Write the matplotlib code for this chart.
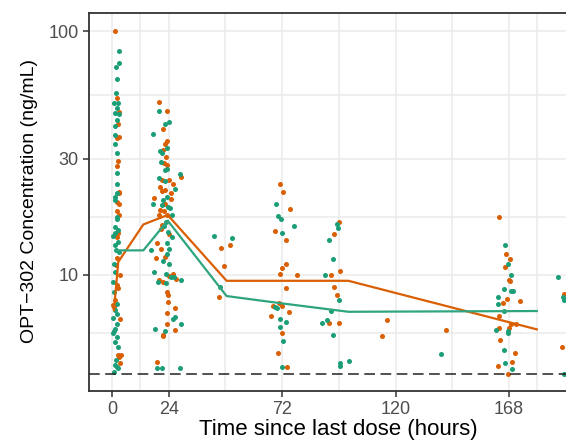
import matplotlib
matplotlib.use("Agg")
import matplotlib.pyplot as plt
import numpy as np

# ---------------- data ----------------
t_orange = [1.3, 2.8, 2.7, 3.0, 2.2, 2.4, 2.0, 2.8, 3.1, 3.0, 2.0, 3.0, 2.3, 2.0, 2.7, 2.2, 1.7, 3.4, 2.0, 2.7,
            1.3, 0.9, 0.6, 3.4, 2.7, 3.7, 3.0, 3.4, 2.2,
            20.0, 23.1, 21.7, 23.1, 22.6, 21.7, 23.0, 22.0, 23.1, 29.1, 21.2, 24.2, 25.7, 20.3, 22.6, 21.2, 24.8,
            17.8, 25.1, 22.6, 20.3, 22.0, 20.0, 23.4, 21.2, 20.6, 24.0, 18.9, 20.9, 18.6, 22.6, 24.2, 25.7, 20.0,
            21.7, 27.1, 23.1, 23.7, 23.7, 26.5, 23.1, 23.1, 26.8, 21.5, 21.7, 18.9,
            46.0, 50.0, 47.4, 45.4,
            71.1, 72.4, 75.5, 69.1, 73.5, 73.6, 71.8, 71.0, 78.2, 73.6, 70.7, 68.0, 71.8, 67.2, 74.8, 71.8, 70.4, 73.9,
            95.9, 93.8, 92.6, 96.5, 94.1, 95.2, 92.0, 96.2, 116.5, 114.3,
            141.3,
            163.9, 166.6, 168.3, 166.2, 167.9, 168.5, 167.3, 172.4, 165.2, 163.9, 168.9, 171.0, 163.7, 168.0, 164.2,
            170.5, 163.4, 169.4, 167.7,
            191.3, 190.4]
c_orange = [100, 46.7, 41.5, 36.8, 36.3, 29.3, 28.0, 21.9, 21.7, 19.6, 18.3, 17.6, 19.9, 14.3, 14.8, 11.7, 11.0, 10.0, 9.1, 8.8,
            7.9, 7.4, 7.5, 6.6, 4.7, 4.7, 4.6, 4.35, 53.4,
            51.3, 47.0, 39.8, 35.5, 34.4, 32.5, 30.5, 28.8, 28.2, 25.1, 24.5, 24.5, 23.5, 23.0, 22.3, 22.0, 21.6,
            20.6, 20.4, 19.5, 18.4, 18.3, 17.6, 17.6, 16.0, 15.4, 14.7, 13.5, 12.8, 11.7, 11.8, 9.88, 10.1, 9.51,
            9.34, 9.57, 8.51, 8.26, 7.74, 7.28, 6.98, 6.28, 5.93, 5.66, 5.59, 4.4,
            12.9, 13.2, 10.9, 8.07,
            23.7, 21.9, 18.7, 15.2, 13.9, 11.1, 10.7, 10.1, 10.0, 8.8, 7.68, 7.48, 7.48, 6.77, 7.01, 5.78, 4.79, 4.17,
            16.4, 14.7, 10.0, 10.4, 8.93, 8.26, 6.34, 6.34, 6.5, 5.59,
            5.94,
            17.3, 12.2, 11.6, 10.8, 9.51, 9.45, 7.94, 7.78, 7.66, 6.75, 6.28, 6.3, 6.04, 6.04, 5.38,
            4.79, 4.23, 4.38, 3.91,
            8.32, 5.07]

t_green = [3.0, 3.0, 1.7, 2.2, 1.7, 0.8, 2.7, 2.0, 1.3, 3.0, 2.0, 1.3, 1.3, 1.3, 2.0, 2.2, 2.0, 2.0, 1.3, 2.2,
           1.3, 2.2, 1.3, 2.7, 1.3, 0.6, 2.7, 1.3, 1.7, 2.9, 0.85, 1.3, 0.55, 0.85, 1.3, 2.0, 0.55, 2.0, 1.3, 0.55,
           2.0, 1.3, 2.7, 1.7, 1.3, 2.2, 0.85, 2.7, 1.0, 2.3,
           20.0, 24.0, 22.6, 17.2, 20.3, 23.1, 21.2, 20.9, 22.3, 23.4, 28.8, 20.0, 22.6, 26.5, 23.4, 21.7, 17.5,
           21.2, 23.7, 24.6, 25.4, 22.9, 21.9, 23.7, 25.4, 23.4, 16.6, 24.2, 23.1, 21.7, 24.2, 17.8, 22.9, 24.8,
           26.2, 19.5, 22.9, 29.1, 26.8, 25.9, 29.1, 18.1, 22.3, 19.2, 21.2, 28.8,
           43.2, 50.6, 45.7,
           69.4, 70.4, 71.5, 71.9, 76.9, 69.0, 70.0, 71.2, 73.5, 71.2, 72.4, 71.8,
           95.1, 95.8, 92.0, 93.5, 90.0, 95.9, 92.6, 90.9, 88.7, 93.5, 96.5, 96.5, 100.4,
           139.1,
           166.3, 167.6, 168.9, 165.8, 168.9, 169.7, 163.1, 163.1, 166.0, 162.4, 167.6, 167.6, 165.8, 166.3, 169.2,
           188.5, 190.7, 191.0, 191.3]
c_green = [83, 74.4, 71.4, 63.6, 55.8, 50.8, 50.8, 48.6, 46.4, 45.8, 43.2, 40.9, 37.4, 34.6, 31.7, 26.2, 23.5, 21.6, 20.8, 17.0,
           20.3, 17.3, 15.7, 15.3, 14.8, 14.5, 13.7, 13.2, 12.6, 12.4, 11.1, 10.3, 9.36, 8.51, 7.16, 6.9, 6.62, 6.31, 6.0, 5.75,
           5.55, 5.31, 5.05, 4.47, 4.26, 4.2, 4.0, 4.13, 5.9, 7.6,
           47.0, 42.5, 41.8, 38.0, 32.3, 33.3, 31.5, 29.1, 26.9, 27.1, 25.9, 24.9, 24.3, 22.5, 20.8, 20.3, 19.5,
           19.3, 18.9, 18.8, 17.6, 16.5, 15.9, 15.0, 14.3, 13.5, 12.6, 12.8, 12.2, 11.4, 11.1, 10.3, 10.1, 9.76,
           9.76, 9.36, 9.27, 9.51, 6.73, 6.57, 6.28, 5.97, 5.86, 4.13, 4.13, 4.13,
           14.5, 14.2, 8.93,
           19.6, 17.5, 17.0, 14.9, 15.8, 7.39, 7.3, 6.58, 6.39, 6.1, 5.36, 4.17,
           16.1, 15.6, 13.9, 11.6, 10.0, 7.87, 7.11, 6.52, 6.34, 5.66, 4.33, 4.23, 4.44,
           4.73,
           13.2, 11.1, 10.0, 8.71, 8.6, 8.6, 8.07, 7.56, 7.11, 5.94, 5.87, 5.78, 4.92, 4.33, 4.11,
           9.75, 8.13, 7.87, 3.91]

line_orange_t = [0.85, 2.7, 13.3, 23.6, 48.5, 100.0, 179.7]
line_orange_c = [7.16, 11.3, 16.1, 17.6, 9.45, 9.45, 5.97]
line_green_t = [2.0, 13.3, 23.6, 48.5, 72.0, 100.0, 179.7]
line_green_c = [12.6, 12.6, 16.7, 8.18, 7.63, 7.05, 7.1]

lloq = 3.92

x_major = [0, 24, 72, 120, 168]
x_minor = [12, 48, 96, 144, 180]
y_major = [10, 30, 100]
y_minor = [5.77, 17.3, 54.8]

ORANGE = "#D95F02"
GREEN = "#1B9E77"

plt.rcParams['font.family'] = ['Liberation Sans', 'DejaVu Sans']

W, H = 566, 447
fig = plt.figure(figsize=(W / 100, H / 100), dpi=100)
left_px, right_px, top_px, bot_px = 88.5, 568.0, 13.0, 391.0
ax = fig.add_axes([left_px / W, 1 - bot_px / H, (right_px - left_px) / W, (bot_px - top_px) / H])
ax.set_facecolor("white")

ax.set_yscale("log")
ax.set_xlim(-9.9, 192.9)
ax.set_ylim(3.333, 118.9)

for v in x_major + x_minor:
    ax.axvline(v, color="#EBEBEB", lw=1.1, zorder=0)
for v in y_major + y_minor:
    ax.axhline(v, color="#EBEBEB", lw=1.1, zorder=0)

ax.scatter(t_orange, c_orange, s=13, color=ORANGE, linewidths=0, zorder=2)
ax.scatter(t_green, c_green, s=13, color=GREEN, linewidths=0, zorder=2)

ax.plot(line_orange_t, line_orange_c, color=ORANGE, lw=1.6, zorder=3)
ax.plot(line_green_t, line_green_c, color="#2EA57F", lw=1.6, zorder=3)

ax.axhline(lloq, color="#222222", lw=1.1, linestyle=(0, (7, 3.6)), zorder=4)

ax.set_xticks(x_major)
ax.set_xticklabels([str(v) for v in x_major])
ax.set_yticks(y_major)
ax.set_yticklabels([str(v) for v in y_major])
ax.yaxis.set_minor_locator(matplotlib.ticker.NullLocator())
ax.xaxis.set_minor_locator(matplotlib.ticker.NullLocator())

ax.tick_params(axis="both", which="major", length=4, width=1.1, color="#333333",
               labelcolor="#4D4D4D", labelsize=13, pad=3)

for side in ["left", "bottom", "top", "right"]:
    ax.spines[side].set_color("#333333")
    ax.spines[side].set_linewidth(1.3)

ax.set_xlabel("Time since last dose (hours)", fontsize=16, color="black")
ax.set_ylabel("OPT\u2212302 Concentration (ng/mL)", fontsize=14, color="black")
ax.xaxis.set_label_coords((338.5 - left_px) / (right_px - left_px), (bot_px - 430) / (bot_px - top_px))
ax.xaxis.label.set_va("center")
ax.yaxis.set_label_coords((30 - left_px) / (right_px - left_px), (bot_px - 201) / (bot_px - top_px))
ax.yaxis.label.set_va("center")

fig.savefig("out.png", dpi=100)
